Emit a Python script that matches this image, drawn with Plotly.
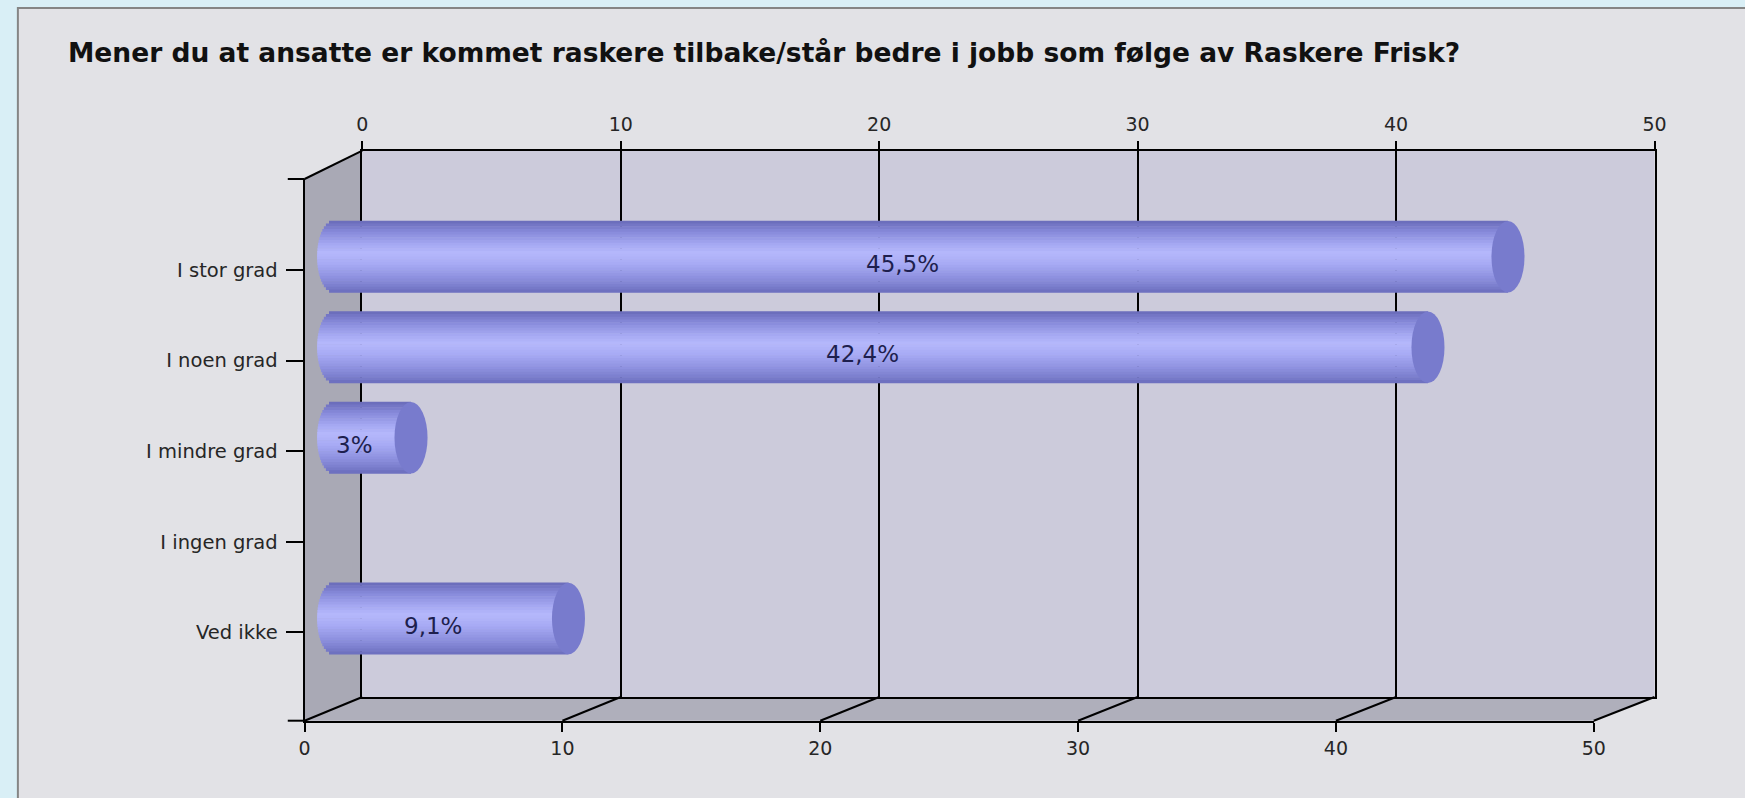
import numpy as np
import plotly.graph_objects as go

# ---------------- data ----------------
categories = ["I stor grad", "I noen grad", "I mindre grad", "I ingen grad", "Ved ikke"]
values = [45.5, 42.4, 3.0, 0.0, 9.1]
value_labels = ["45,5%", "42,4%", "3%", "", "9,1%"]
x_ticks = [0, 10, 20, 30, 40, 50]
x_range = [0, 50]
title_text = "Mener du at ansatte er kommet raskere tilbake/står bedre i jobb som følge av Raskere Frisk?"

# ---------------- geometry / style ----------------
W, H = 1745, 798
def px(x):
    return x / W
def py(y):
    return 1 - y / H

back_x = (360.0, 1665.7)   # back wall left/right (pixels)
back_y = (150.7, 697.0)    # back wall top/bottom
front_x = (301.7, 1604.3)  # front plane
front_y = (179.0, 720.7)
mid_x = (331.0, 1635.0)    # plane of the cylinders (value 0 .. 50)
mid_y = (162.7, 709.0)
mid_pad = 1.0              # extra x units on the left so the rounded ends are not clipped
mid_scale = (mid_x[1] - mid_x[0]) / (x_range[1] - x_range[0])

FONT = "DejaVu Sans"
TXT = "#262626"
bar_half = 0.395           # half thickness of a cylinder (category units)
cap_half = 0.64            # half width of the cylinder end ellipse (x units)

stops_t = [-1.0, -0.7, -0.35, -0.1, 0.2, 0.55, 0.85, 1.0]
stops_c = [(105, 107, 184), (135, 138, 218), (165, 168, 242), (181, 184, 252),
           (168, 171, 245), (145, 148, 226), (122, 125, 204), (106, 109, 188)]

def shade(t):
    r = np.interp(t, stops_t, [c[0] for c in stops_c])
    g = np.interp(t, stops_t, [c[1] for c in stops_c])
    b = np.interp(t, stops_t, [c[2] for c in stops_c])
    return f"rgb({int(r)},{int(g)},{int(b)})"

fig = go.Figure()

# cylinders built from thin horizontal bands (gradient, rounded left end)
N = 26
bw = 2 * bar_half / N
for k in range(N):
    t = -1 + (2 * k + 1) / N
    r = cap_half * np.sqrt(max(0.0, 1 - t * t))
    xs = [v + r if v > 0 else 0 for v in values]
    bases = [-r if v > 0 else 0 for v in values]
    fig.add_trace(go.Bar(
        x=xs, y=categories, base=bases, orientation="h",
        width=bw * 1.2, offset=-bar_half + k * bw - bw * 0.1,
        marker=dict(color=shade(t), line=dict(width=0)),
        xaxis="x2", yaxis="y2", showlegend=False, hoverinfo="skip",
    ))

# empty traces so the decorative subplots exist
fig.add_trace(go.Scatter(x=[], y=[], xaxis="x", yaxis="y", showlegend=False))
fig.add_trace(go.Scatter(x=[], y=[], xaxis="x3", yaxis="y3", showlegend=False))

shapes = []
# panel
shapes.append(dict(type="rect", xref="paper", yref="paper",
                   x0=px(12), x1=px(1760), y0=py(8), y1=py(820),
                   fillcolor="#e2e2e6", line=dict(color="#858585", width=2), layer="below"))
# left side wall
path = (f"M {px(front_x[0])} {py(front_y[1])} L {px(front_x[0])} {py(front_y[0])} "
        f"L {px(back_x[0])} {py(back_y[0])} L {px(back_x[0])} {py(back_y[1])} Z")
shapes.append(dict(type="path", xref="paper", yref="paper", path=path,
                   fillcolor="#a9a9b5", line=dict(width=0), layer="below"))
# floor
path = (f"M {px(front_x[0])} {py(front_y[1])} L {px(front_x[1])} {py(front_y[1])} "
        f"L {px(back_x[1])} {py(back_y[1])} L {px(back_x[0])} {py(back_y[1])} Z")
shapes.append(dict(type="path", xref="paper", yref="paper", path=path,
                   fillcolor="#afafbb", line=dict(width=0), layer="below"))
# back wall
shapes.append(dict(type="rect", xref="x domain", yref="y domain", x0=0, x1=1, y0=0, y1=1,
                   fillcolor="#cccbdb", line=dict(width=0), layer="below"))
# floor depth lines at each tick
for v in x_ticks:
    fx = front_x[0] + (v - x_range[0]) / (x_range[1] - x_range[0]) * (front_x[1] - front_x[0])
    bx = back_x[0] + (v - x_range[0]) / (x_range[1] - x_range[0]) * (back_x[1] - back_x[0])
    shapes.append(dict(type="line", xref="paper", yref="paper",
                       x0=px(fx), y0=py(front_y[1]), x1=px(bx), y1=py(back_y[1]),
                       line=dict(color="black", width=2), layer="below"))
# top-left depth line
shapes.append(dict(type="line", xref="paper", yref="paper",
                   x0=px(front_x[0]), y0=py(front_y[0]), x1=px(back_x[0]), y1=py(back_y[0]),
                   line=dict(color="black", width=2), layer="below"))
# small left extensions (top and bottom)
for yy in (front_y[0], front_y[1]):
    shapes.append(dict(type="line", xref="paper", yref="paper",
                       x0=px(front_x[0] - 17), y0=py(yy), x1=px(front_x[0]), y1=py(yy),
                       line=dict(color="black", width=2), layer="below"))
# cylinder end caps
for i, v in enumerate(values):
    if v > 0:
        shapes.append(dict(type="circle", xref="x2", yref="y2",
                           x0=v - cap_half, x1=v + cap_half, y0=i - bar_half, y1=i + bar_half,
                           fillcolor="#787bcd", line=dict(width=0), layer="above"))

annotations = [dict(text=title_text, xref="paper", yref="paper", x=px(61), y=py(52),
                    xanchor="left", yanchor="middle", showarrow=False,
                    font=dict(family=FONT, size=26.5, color="#111111", weight="bold"))]
for i, (v, lab) in enumerate(zip(values, value_labels)):
    if lab:
        annotations.append(dict(text=lab, xref="x2", yref="y2", x=v / 2, y=categories[i],
                                xshift=-18, yshift=-7, showarrow=False,
                                font=dict(family=FONT, size=23, color="#1e1f4e")))

tickfont = dict(family=FONT, size=19, color=TXT)
fig.update_layout(
    width=W, height=H, autosize=False,
    margin=dict(l=0, r=0, t=0, b=0),
    paper_bgcolor="#d9eff6", plot_bgcolor="rgba(0,0,0,0)",
    barmode="overlay", showlegend=False,
    shapes=shapes, annotations=annotations,
    xaxis=dict(domain=[px(back_x[0]), px(back_x[1])], range=x_range, anchor="y", side="top",
               tickvals=x_ticks, ticks="outside", ticklen=8, tickwidth=2, tickcolor="black",
               showline=True, linecolor="black", linewidth=2, mirror=True,
               showgrid=True, gridcolor="black", gridwidth=2, zeroline=False,
               tickfont=tickfont, ticklabelstandoff=2, fixedrange=True),
    yaxis=dict(domain=[py(back_y[1]), py(back_y[0])], range=[0, 1], anchor="x",
               showline=True, linecolor="black", linewidth=2, mirror=True,
               showticklabels=False, ticks="", showgrid=False, zeroline=False, fixedrange=True),
    xaxis2=dict(domain=[px(mid_x[0] - mid_pad * mid_scale), px(mid_x[1])],
                range=[x_range[0] - mid_pad, x_range[1]], anchor="y2",
                visible=False, fixedrange=True),
    yaxis2=dict(domain=[py(mid_y[1]), py(mid_y[0])], range=[5.0, -1.04], anchor="x2",
                type="category", visible=False, fixedrange=True),
    xaxis3=dict(domain=[px(front_x[0]), px(front_x[1])], range=x_range, anchor="y3", side="bottom",
                tickvals=x_ticks, ticks="outside", ticklen=9, tickwidth=2, tickcolor="black",
                showline=True, linecolor="black", linewidth=2, showgrid=False, zeroline=False,
                tickfont=tickfont, ticklabelstandoff=0, fixedrange=True),
    yaxis3=dict(domain=[py(front_y[1]), py(front_y[0])], range=[4.976, -1.005], anchor="x3",
                side="left", tickvals=list(range(len(categories))), ticktext=categories,
                ticks="outside", ticklen=17, tickwidth=2, tickcolor="black",
                showline=True, linecolor="black", linewidth=2, showgrid=False, zeroline=False,
                tickfont=dict(family=FONT, size=19.5, color=TXT), ticklabelstandoff=4,
                fixedrange=True),
)

fig.write_html("out.html",
               config={"displayModeBar": False},
               post_script="document.body.style.margin='0';document.body.style.padding='0';document.body.style.overflow='hidden';")
